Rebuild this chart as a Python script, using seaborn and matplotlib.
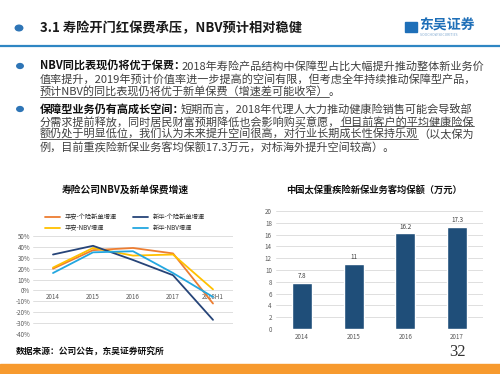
import numpy as np
import pandas as pd
import seaborn as sns
import matplotlib.pyplot as plt
from matplotlib.lines import Line2D
from matplotlib.patches import Rectangle, Circle

# line chart data (growth, %)
years = ["2014", "2015", "2016", "2017", "2018H1"]
pa_indiv = [20, 37, 39, 34, -12]
pa_nbv = [21, 39, 32, 33, 1]
xh_indiv = [33, 41, 28, 14, -27]
xh_nbv = [16, 35, 36, 16, -6]
series_names = ["平安-个险新单增速", "平安-NBV增速", "新华-个险新单增速", "新华-NBV增速"]
series_colors = ["#ED7D31", "#FFC000", "#264478", "#23A7E0"]

# bar chart data (万元)
bar_years = ["2014", "2015", "2016", "2017"]
bar_amounts = [7.8, 11, 16.2, 17.3]

sns.set_style("white")
plt.rcParams["font.family"] = ["Noto Sans CJK SC", "DejaVu Sans"]

W, H = 500, 374
fig = plt.figure(figsize=(5, 3.74), dpi=100)
renderer = fig.canvas.get_renderer()


def fx(x):
    return x / W


def fy(y):
    return 1 - y / H


# header
BLUE = "#2E75B6"
fig.add_artist(Circle((fx(19), fy(28)), 0.0075, transform=fig.transFigure, color=BLUE))
fig.text(fx(40), fy(28), "3.1 寿险开门红保费承压，NBV预计相对稳健", fontsize=9.5,
         fontweight="bold", va="center", color="#1a1a1a")
fig.add_artist(Line2D([0, 1], [fy(46), fy(46)], color="#2F86C3", lw=1.6))
fig.add_artist(Rectangle((fx(405), fy(32)), fx(12), 10 / H, color="#1E6FB8"))
fig.text(fx(419), fy(26), "东吴证券", fontsize=10, fontweight="bold", color="#1E6FB8", va="center")
fig.text(fx(420), fy(35), "SOOCHOW SECURITIES", fontsize=2.5, color="#7FA8D0", va="center")


def put_line(x, y, parts, size=8):
    for txt, style in parts:
        t = fig.text(fx(x), fy(y), txt, fontsize=size, va="center", ha="left",
                     fontweight="bold" if style == "b" else "normal",
                     color="#111111" if style == "b" else "#404040")
        bb = t.get_window_extent(renderer)
        if style == "u":
            fig.add_artist(Line2D([bb.x0 / W, bb.x1 / W], [(bb.y0 + 1) / H] * 2,
                                  color="#404040", lw=0.6))
        # full-width colon leaves blank space at the end of the bold lead-in
        x += bb.width - (4 if txt.endswith("：") else 0)


for by in (66, 109):
    fig.add_artist(Circle((fx(20), fy(by)), 0.0065, transform=fig.transFigure, color=BLUE))

put_line(40, 66, [("NBV同比表现仍将优于保费：", "b"),
                  ("2018年寿险产品结构中保障型占比大幅提升推动整体新业务价", "n")])
put_line(40, 79, [("值率提升，2019年预计价值率进一步提高的空间有限，但考虑全年持续推动保障型产品，", "n")])
put_line(40, 92, [("预计NBV的同比表现仍将优于新单保费（增速差可能收窄）", "u"), ("。", "n")])
put_line(40, 109, [("保障型业务仍有高成长空间：", "b"),
                   ("短期而言，2018年代理人大力推动健康险销售可能会导致部", "n")])
put_line(40, 122, [("分需求提前释放，同时居民财富预期降低也会影响购买意愿，", "n"),
                   ("但目前客户的平均健康险保", "u")])
put_line(40, 134, [("额仍处于明显低位，我们认为未来提升空间很高，对行业长期成长性保持乐观", "u"),
                   ("（以太保为", "n")])
put_line(40, 147, [("例，目前重疾险新保业务客均保额17.3万元，对标海外提升空间较高）。", "n")])

# footer
fig.text(fx(16), fy(352), "数据来源：公司公告，东吴证券研究所", fontsize=6.3, fontweight="bold",
         va="center", color="#111111")
fig.text(fx(457), fy(352), "32", fontsize=12, va="center", ha="center",
         family="Liberation Serif", color="#333333")
fig.add_artist(Rectangle((0, 0), 1, 10 / H, color="#F79A2E"))

# ---- line chart ----
df = pd.DataFrame({
    "year": years * 4,
    "growth": pa_indiv + pa_nbv + xh_indiv + xh_nbv,
    "series": sum([[s] * len(years) for s in series_names], []),
})
ax = fig.add_axes([fx(33), fy(334), fx(200), 98 / H])
sns.lineplot(data=df, x="year", y="growth", hue="series", hue_order=series_names,
             palette=series_colors, sort=False, legend=False, lw=1.3, ax=ax)
ax.set_xlim(-0.5, 4.5)
ax.set_ylim(-40, 50)
ax.set_yticks(np.arange(-40, 51, 10))
ax.set_yticklabels([f"{v}%" for v in range(-40, 51, 10)])
ax.grid(axis="y", color="#D9D9D9", lw=0.6)
ax.set_axisbelow(True)
for s in ["top", "right", "left"]:
    ax.spines[s].set_visible(False)
ax.spines["bottom"].set_position(("data", 0))
ax.spines["bottom"].set_visible(False)
ax.tick_params(length=0, labelsize=4.5, labelcolor="#595959", pad=2)
ax.set_xlabel("")
ax.set_ylabel("")
handles = [Line2D([], [], color=c, lw=1.3) for c in series_colors]
ax.legend(handles, series_names, ncol=2, loc="lower center", bbox_to_anchor=(0.46, 1.0),
          frameon=False, fontsize=4.5, handlelength=2.4, columnspacing=2.5,
          labelspacing=0.5, borderaxespad=0.2)
fig.text(fx(125), fy(190), "寿险公司NBV及新单保费增速", fontsize=7, fontweight="bold",
         ha="center", va="center", color="#111111")

# ---- bar chart ----
ax2 = fig.add_axes([fx(276), fy(329), fx(207), 118 / H])
sns.barplot(x=bar_years, y=bar_amounts, color="#1F4E79", saturation=1, width=0.39, ax=ax2)
ax2.bar_label(ax2.containers[0], labels=[f"{v:g}" for v in bar_amounts], fontsize=4.5,
              color="#404040", padding=2)
ax2.set_ylim(0, 20)
ax2.set_yticks(np.arange(0, 21, 2))
ax2.grid(axis="y", color="#D9D9D9", lw=0.6)
ax2.set_axisbelow(True)
sns.despine(ax=ax2, left=True, bottom=True)
ax2.tick_params(length=0, labelsize=4.5, labelcolor="#595959", pad=3)
fig.text(fx(374), fy(190), "中国太保重疾险新保业务客均保额（万元）", fontsize=6.7,
         fontweight="bold", ha="center", va="center", color="#111111")

fig.savefig("out.png", dpi=100)
